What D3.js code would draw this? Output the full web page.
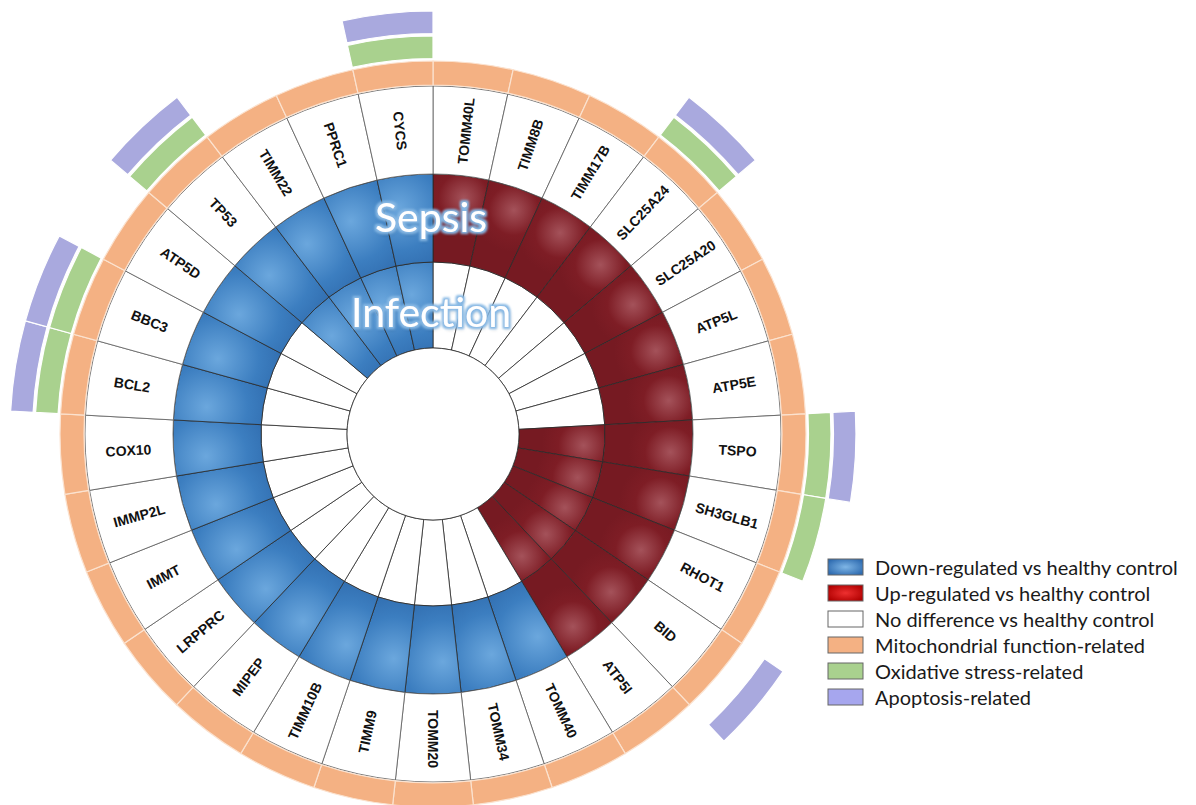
<!DOCTYPE html>
<meta charset="utf-8">
<style>
body { margin:0; background:#fff; }
svg { display:block; }
</style>
<script src="https://cdn.jsdelivr.net/npm/d3@7"></script>
<body></body>
<script>

// genes clockwise from 12 o'clock
var genes = ["TOMM40L","TIMM8B","TIMM17B","SLC25A24","SLC25A20","ATP5L","ATP5E","TSPO",
             "SH3GLB1","RHOT1","BID","ATP5I","TOMM40","TOMM34","TOMM20","TIMM9","TIMM10B",
             "MIPEP","LRPPRC","IMMT","IMMP2L","COX10","BCL2","BBC3","ATP5D","TP53","TIMM22",
             "PPRC1","CYCS"];

// 1 = up-regulated, -1 = down-regulated, 0 = no difference (vs healthy control)
var sepsis    = [1,1,1,1,1,1,1,1,1,1,1,1,-1,-1,-1,-1,-1,-1,-1,-1,-1,-1,-1,-1,-1,-1,-1,-1,-1];
var infection = [0,0,0,0,0,0,0,1,1,1,1,1,0,0,0,0,0,0,0,0,0,0,0,0,0,-1,-1,-1,-1];

// functional annotation
var mitochondrial = genes.slice();
var oxidative = ["SLC25A24","TSPO","SH3GLB1","BCL2","BBC3","TP53","CYCS"];
var apoptosis = ["SLC25A24","TSPO","BID","BCL2","BBC3","TP53","CYCS"];

var ringTitles = ["Sepsis","Infection"];

var legendLabels = ["Down-regulated vs healthy control",
                    "Up-regulated vs healthy control",
                    "No difference vs healthy control",
                    "Mitochondrial function-related",
                    "Oxidative stress-related",
                    "Apoptosis-related"];

const width = 1196, height = 805;
const cx = 433, cy = 434;

var R = { hole: 86, inf: 172, sep: 260, lab: 348,
          mito: [349, 373], ox: [375.5, 398], ap: [400.5, 423] };

var colors = { blue: "#3c7ec0", blueLight: "#6ba7dd", blueDark: "#2d68aa",
               red: "#7e1d25", redLight: "#a4525a", redDark: "#761a22",
               mito: "#f4b183", ox: "#a9d18e", ap: "#a9a9de" };

var svg = d3.select("body").append("svg")
    .attr("width", width)
    .attr("height", height);

var defs = svg.append("defs");

var g = svg.append("g").attr("transform", `translate(${cx},${cy})`);

var x = d3.scaleBand().domain(genes).range([0, 2*Math.PI]).padding(0);

function ring(r0, r1) {
  return d3.arc().innerRadius(r0).outerRadius(r1)
    .startAngle(d => x(d.gene)).endAngle(d => x(d.gene) + x.bandwidth());
}

// glossy fill for one heat cell
var gradCount = 0;
function cellFill(d, arc) {
  if (d.v == 0) return "#fff";
  var id = "cg" + (gradCount++);
  var up = d.v > 0;
  var a = x(d.gene) + x.bandwidth()*(up ? 0.6 : 0.3);
  var rr = (arc.innerRadius()(d) + arc.outerRadius()(d))/2 + (up ? 22 : 12);
  var hx = Math.sin(a)*rr, hy = -Math.cos(a)*rr;
  var gr = defs.append("radialGradient").attr("id", id)
    .attr("gradientUnits", "userSpaceOnUse")
    .attr("cx", hx).attr("cy", hy).attr("r", up ? 42 : 75)
    .attr("fx", hx).attr("fy", hy);
  gr.append("stop").attr("offset", "0%").attr("stop-color", up ? colors.redLight : colors.blueLight);
  gr.append("stop").attr("offset", up ? "60%" : "55%").attr("stop-color", up ? colors.red : colors.blue);
  gr.append("stop").attr("offset", "100%").attr("stop-color", up ? colors.redDark : colors.blueDark);
  return `url(#${id})`;
}

// ---- heat rings ----
var rings = [
  { key: "infection", values: infection, r0: R.hole, r1: R.inf },
  { key: "sepsis",    values: sepsis,    r0: R.inf,  r1: R.sep }
];

rings.forEach(function(rg) {
  var arc = ring(rg.r0, rg.r1);
  var data = genes.map((gn, i) => ({ gene: gn, v: rg.values[i] }));
  g.append("g").attr("class", rg.key).selectAll("path")
    .data(data)
    .enter()
    .append("path")
      .attr("d", arc)
      .attr("fill", d => cellFill(d, arc))
      .attr("stroke", "#2a2a2a")
      .attr("stroke-width", 0.8);
});

// ---- label ring ----
var labArc = ring(R.sep, R.lab);
var labData = genes.map(gn => ({ gene: gn }));
g.append("g").selectAll("path")
  .data(labData)
  .enter()
  .append("path")
    .attr("d", labArc)
    .attr("fill", "#fff")
    .attr("stroke", "#5a5a5a")
    .attr("stroke-width", 0.8);

var labR = (R.sep + R.lab)/2 + 1;
g.append("g").selectAll("text")
  .data(labData)
  .enter()
  .append("text")
    .attr("transform", function(d) {
      var deg = (x(d.gene) + x.bandwidth()/2) * 180/Math.PI;
      var px = Math.sin(deg*Math.PI/180)*labR, py = -Math.cos(deg*Math.PI/180)*labR;
      var rot = deg <= 180.5 ? deg - 90 : deg + 90;
      return `translate(${px},${py}) rotate(${rot})`;
    })
    .attr("text-anchor", "middle")
    .attr("dominant-baseline", "central")
    .style("font-family", "'Liberation Sans', Arial, sans-serif")
    .style("font-weight", "bold")
    .style("font-size", "14px")
    .style("fill", "#111")
    .text(d => d.gene);

// centre hole border
g.append("circle").attr("r", R.hole).attr("fill", "#fff")
  .attr("stroke", "#2a2a2a").attr("stroke-width", 0.8);

// ---- annotation rings ----
var annot = [
  { list: mitochondrial, r: R.mito, color: colors.mito, sep: "#fbe2cf" },
  { list: oxidative,     r: R.ox,   color: colors.ox,   sep: "#ffffff" },
  { list: apoptosis,     r: R.ap,   color: colors.ap,   sep: "#ffffff" }
];
annot.forEach(function(an) {
  var arc = ring(an.r[0], an.r[1]);
  g.append("g").selectAll("path")
    .data(an.list.map(gn => ({ gene: gn })))
    .enter()
    .append("path")
      .attr("d", arc)
      .attr("fill", an.color)
      .attr("stroke", an.sep)
      .attr("stroke-width", 1.2);
});

// ---- ring titles ----
var glow = defs.append("filter").attr("id", "glow")
  .attr("x", "-20%").attr("y", "-30%").attr("width", "140%").attr("height", "160%");
glow.append("feMorphology").attr("in", "SourceAlpha").attr("operator", "dilate")
  .attr("radius", 1.8).attr("result", "dil");
glow.append("feFlood").attr("flood-color", "#86b8e4").attr("result", "fl");
glow.append("feComposite").attr("in", "fl").attr("in2", "dil").attr("operator", "in").attr("result", "outline");
glow.append("feGaussianBlur").attr("in", "outline").attr("stdDeviation", 1).attr("result", "soft");
glow.append("feGaussianBlur").attr("in", "SourceAlpha").attr("stdDeviation", 2).attr("result", "sh");
glow.append("feOffset").attr("in", "sh").attr("dx", 1).attr("dy", 2).attr("result", "sho");
glow.append("feComponentTransfer").attr("in", "sho").attr("result", "sha")
  .append("feFuncA").attr("type", "linear").attr("slope", 0.35);
var mg = glow.append("feMerge");
mg.append("feMergeNode").attr("in", "sha");
mg.append("feMergeNode").attr("in", "soft");
mg.append("feMergeNode").attr("in", "SourceGraphic");

var titleBase = [202, 107];   // distance of baseline above centre
g.append("g").selectAll("text")
  .data(ringTitles)
  .enter()
  .append("text")
    .attr("x", -2)
    .attr("y", (d, i) => -titleBase[i])
    .attr("text-anchor", "middle")
    .style("font-family", "Lato, 'Open Sans', sans-serif")
    .style("font-size", "41px")
    .style("fill", "#fff")
    .attr("filter", "url(#glow)")
    .text(d => d);

// ---- legend ----
var lgBlue = defs.append("radialGradient").attr("id", "lgBlue").attr("cx", "50%").attr("cy", "50%").attr("r", "60%");
lgBlue.append("stop").attr("offset", "0%").attr("stop-color", "#7fb6e6");
lgBlue.append("stop").attr("offset", "100%").attr("stop-color", "#2e6bb0");
var lgRed = defs.append("radialGradient").attr("id", "lgRed").attr("cx", "50%").attr("cy", "50%").attr("r", "60%");
lgRed.append("stop").attr("offset", "0%").attr("stop-color", "#ee3030");
lgRed.append("stop").attr("offset", "100%").attr("stop-color", "#b00000");

var legendFill = ["url(#lgBlue)", "url(#lgRed)", "#fff", colors.mito, colors.ox, "#a6a6ee"];

var legend = svg.append("g").attr("transform", "translate(828,559)");
var rows = legend.selectAll("g")
  .data(legendLabels)
  .enter()
  .append("g")
    .attr("transform", (d, i) => `translate(0,${i*26})`);

rows.append("rect")
  .attr("width", 35).attr("height", 16)
  .attr("fill", (d, i) => legendFill[i])
  .attr("stroke", "#666")
  .attr("stroke-width", 1);

rows.append("text")
  .attr("x", 47).attr("y", 8)
  .attr("dominant-baseline", "central")
  .style("font-family", "Lato, 'Open Sans', sans-serif")
  .style("font-size", "20px")
  .style("fill", "#1a1a1a")
  .text(d => d);

</script>
